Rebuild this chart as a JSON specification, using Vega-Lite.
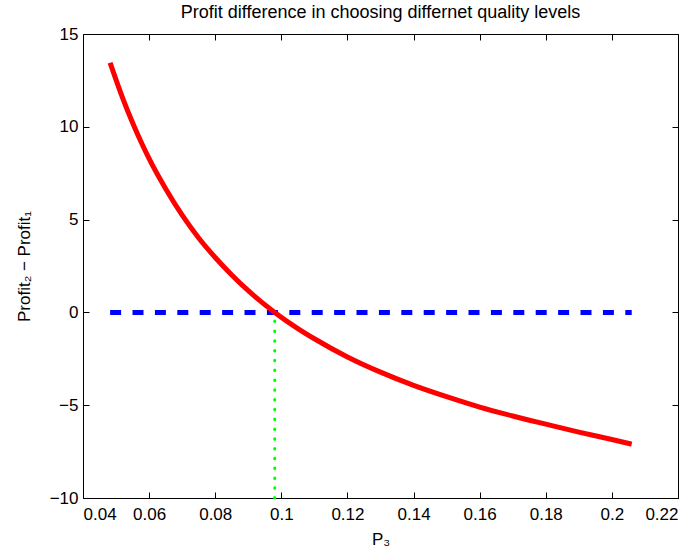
{
  "$schema": "https://vega.github.io/schema/vega-lite/v6.json",
  "width": 595,
  "height": 464,
  "autosize": {"type": "none"},
  "padding": {"left": 83, "top": 34, "right": 19, "bottom": 60},
  "background": "white",
  "config": {
    "font": "Liberation Sans",
    "view": {"stroke": "black", "strokeWidth": 1},
    "axis": {
      "grid": false,
      "domainColor": "black",
      "tickColor": "black",
      "labelColor": "black",
      "titleColor": "black",
      "labelFont": "Liberation Sans",
      "titleFont": "Liberation Sans",
      "labelFontSize": 17,
      "titleFontSize": 17,
      "titleFontWeight": "normal",
      "tickSize": -6,
      "tickWidth": 1
    }
  },
  "title": {
    "text": "Profit difference in choosing differnet quality levels",
    "font": "Liberation Sans",
    "fontSize": 18,
    "fontWeight": "normal",
    "color": "black",
    "anchor": "middle",
    "offset": 3
  },
  "datasets": {
    "curve": [
      {"p3": 0.0482, "diff": 13.45},
      {"p3": 0.050, "diff": 12.53},
      {"p3": 0.052, "diff": 11.55},
      {"p3": 0.055, "diff": 10.22},
      {"p3": 0.058, "diff": 9.02},
      {"p3": 0.060, "diff": 8.28},
      {"p3": 0.065, "diff": 6.66},
      {"p3": 0.070, "diff": 5.24},
      {"p3": 0.075, "diff": 4.01},
      {"p3": 0.080, "diff": 2.96},
      {"p3": 0.085, "diff": 2.02},
      {"p3": 0.090, "diff": 1.17},
      {"p3": 0.098, "diff": 0.0},
      {"p3": 0.105, "diff": -0.87},
      {"p3": 0.110, "diff": -1.42},
      {"p3": 0.120, "diff": -2.40},
      {"p3": 0.130, "diff": -3.22},
      {"p3": 0.140, "diff": -3.93},
      {"p3": 0.150, "diff": -4.54},
      {"p3": 0.160, "diff": -5.10},
      {"p3": 0.170, "diff": -5.58},
      {"p3": 0.180, "diff": -6.02},
      {"p3": 0.190, "diff": -6.45},
      {"p3": 0.200, "diff": -6.85},
      {"p3": 0.206, "diff": -7.10}
    ],
    "zero": [
      {"p3": 0.0482, "diff": 0},
      {"p3": 0.206, "diff": 0}
    ],
    "cross": [
      {"p3": 0.098, "diff": -10},
      {"p3": 0.098, "diff": 0}
    ]
  },
  "layer": [
    {
      "data": {"name": "zero"},
      "mark": {"type": "line", "color": "#0000ff", "strokeWidth": 5, "strokeDash": [11, 11.4]},
      "encoding": {
        "x": {"field": "p3", "type": "quantitative",
              "scale": {"domain": [0.04, 0.22], "nice": false, "zero": false},
              "axis": {"orient": "top", "labels": false, "title": null, "domain": false,
                       "values": [0.04, 0.06, 0.08, 0.1, 0.12, 0.14, 0.16, 0.18, 0.2, 0.22]}},
        "y": {"field": "diff", "type": "quantitative",
              "scale": {"domain": [-10, 15], "nice": false, "zero": false},
              "axis": {"orient": "right", "labels": false, "title": null, "domain": false,
                       "values": [-10, -5, 0, 5, 10, 15]}}
      }
    },
    {
      "data": {"name": "curve"},
      "mark": {"type": "line", "color": "#ff0000", "strokeWidth": 5, "interpolate": "monotone"},
      "encoding": {
        "x": {"field": "p3", "type": "quantitative",
              "scale": {"domain": [0.04, 0.22], "nice": false, "zero": false},
              "axis": {"orient": "bottom", "title": "P₃", "format": "~g", "labelPadding": 14, "titlePadding": 9, "domain": false,
                       "values": [0.04, 0.06, 0.08, 0.1, 0.12, 0.14, 0.16, 0.18, 0.2, 0.22]}},
        "y": {"field": "diff", "type": "quantitative",
              "scale": {"domain": [-10, 15], "nice": false, "zero": false},
              "axis": {"orient": "left", "title": "Profit₂ − Profit₁", "labelPadding": 11, "titlePadding": 16, "domain": false,
                       "values": [-10, -5, 0, 5, 10, 15]}}
      }
    },
    {
      "data": {"name": "cross"},
      "mark": {"type": "line", "color": "#00ff00", "strokeWidth": 3, "strokeCap": "round", "strokeDash": [0.5, 9.3]},
      "encoding": {
        "x": {"field": "p3", "type": "quantitative", "axis": null},
        "y": {"field": "diff", "type": "quantitative", "axis": null}
      }
    }
  ],
  "resolve": {"axis": {"x": "independent", "y": "independent"}}
}
